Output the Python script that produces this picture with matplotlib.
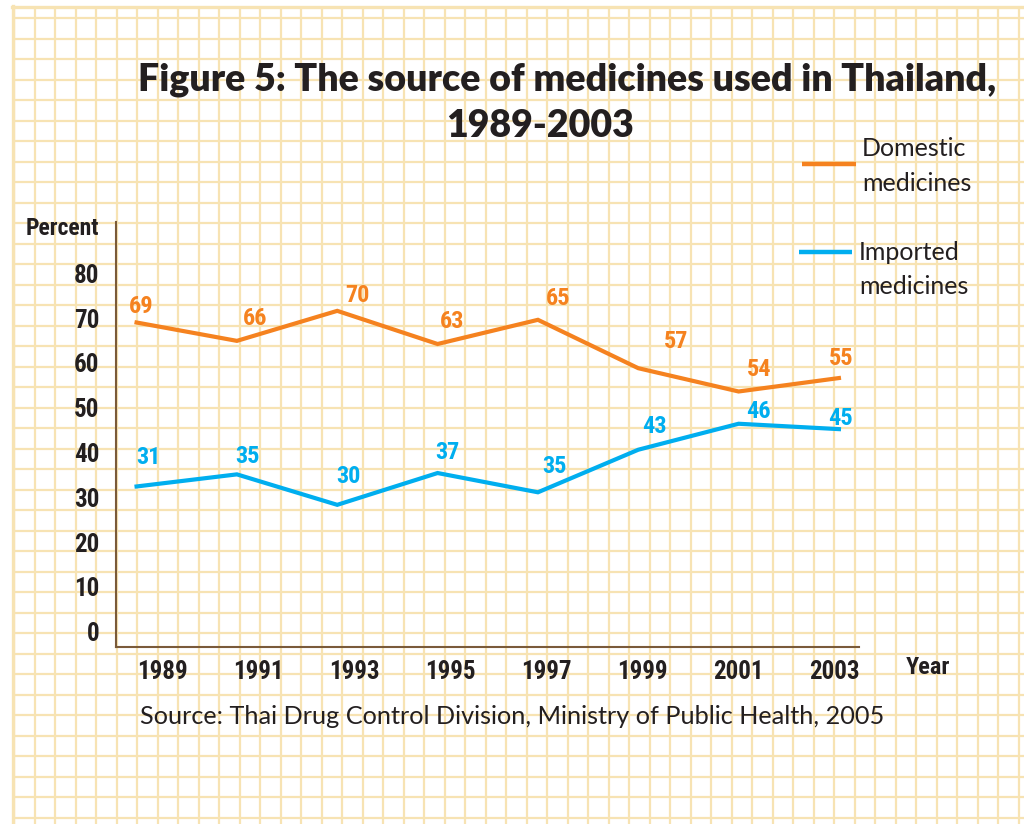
import numpy as np
import matplotlib
matplotlib.use("Agg")
import matplotlib.pyplot as plt
from matplotlib import font_manager as fm

# ---------------- data ----------------
years = [1989, 1991, 1993, 1995, 1997, 1999, 2001, 2003]
year_labels = ["1989", "1991", "1993", "1995", "1997", "1999", "2001", "2003"]
# values as printed on the chart
domestic_labels = [69, 66, 70, 63, 65, 57, 54, 55]
imported_labels = [31, 35, 30, 37, 35, 43, 46, 45]
# line heights as drawn in the chart
domestic_line = [69.0, 64.9, 71.6, 64.2, 69.6, 58.8, 53.6, 56.6]
imported_line = [32.4, 35.1, 28.3, 35.4, 31.1, 40.6, 46.4, 45.2]
y_ticks = [0, 10, 20, 30, 40, 50, 60, 70, 80]

# ---------------- styles ----------------
ORANGE = "#F5821F"
BLUE = "#00AEEF"
DARK = "#231F20"
GRID = "#F7E3B3"
SPINE = "#7A5A3A"

names = {f.name for f in fm.fontManager.ttflist}
def pick(*cands):
    for c in cands:
        if c in names:
            return c
    return "DejaVu Sans"

COND = pick("Liberation Sans Narrow", "Roboto Condensed", "Liberation Sans", "Roboto")
TITLEF = pick("Lato", "Open Sans", "Noto Sans")
BODYF = pick("Lato", "Open Sans", "Noto Sans")

W, H = 1024, 824
fig = plt.figure(figsize=(W / 100, H / 100), dpi=100)
fig.patch.set_facecolor("white")

# background graph-paper grid (pixel coordinates)
bg = fig.add_axes([0, 0, 1, 1], zorder=-5)
bg.set_xlim(0, W)
bg.set_ylim(H, 0)
bg.axis("off")
step = 20.5
for k in range(50):
    x = 14 + step * k
    if x <= W:
        bg.plot([x, x], [6.5, H], color=GRID, lw=1.6, solid_capstyle="butt", zorder=0)
for k in range(40):
    y = 18.3 + step * k
    if y <= H:
        bg.plot([12, W], [y, y], color=GRID, lw=1.6, solid_capstyle="butt", zorder=0)
bg.plot([12, W], [6.5, 6.5], color=GRID, lw=2.4, zorder=0)
bg.plot([12.5, 12.5], [6, H], color=GRID, lw=2.4, zorder=0)

# titles and free text
bg.text(567, 80, "Figure 5: The source of medicines used in Thailand,", ha="center", va="center",
        fontsize=27, fontweight="heavy", family=TITLEF, color=DARK)
bg.text(540, 126, "1989-2003", ha="center", va="center",
        fontsize=27, fontweight="heavy", family=TITLEF, color=DARK)
bg.text(99, 228, "Percent", ha="right", va="center", fontsize=17, fontweight="bold",
        family=COND, color=DARK)
bg.text(928, 668, "Year", ha="center", va="center", fontsize=17.5, fontweight="bold",
        family=COND, color=DARK)
bg.text(140, 717, "Source: Thai Drug Control Division, Ministry of Public Health, 2005",
        ha="left", va="center", fontsize=18.2, family=BODYF, color=DARK)

# legend (drawn manually to match the layout)
bg.plot([802, 856], [164, 164], color=ORANGE, lw=3.2, solid_capstyle="butt")
bg.text(862, 166, "Domestic\nmedicines", ha="left", va="center", fontsize=18,
        family=BODYF, color=DARK, linespacing=1.6)
bg.plot([799, 852], [252, 252], color=BLUE, lw=3.2, solid_capstyle="butt")
bg.text(859, 269.5, "Imported\nmedicines", ha="left", va="center", fontsize=18,
        family=BODYF, color=DARK, linespacing=1.6)

# main axes
left, right, top, bottom = 116, 859, 221.7, 647.3
ax = fig.add_axes([left / W, 1 - bottom / H, (right - left) / W, (bottom - top) / H])
ax.set_facecolor("none")
ax.set_xlim(1988.59, 2003.40)
ax.set_ylim(-3.5, 91.5)
for s in ["top", "right"]:
    ax.spines[s].set_visible(False)
for s in ["left", "bottom"]:
    ax.spines[s].set_color(SPINE)
    ax.spines[s].set_linewidth(1.5)

ax.plot(years, domestic_line, color=ORANGE, lw=3.0, solid_joinstyle="miter", zorder=3)
ax.plot(years, imported_line, color=BLUE, lw=3.0, solid_joinstyle="miter", zorder=3)

ax.set_yticks(y_ticks)
ax.set_yticklabels([str(v) for v in y_ticks])
tick_pos = np.linspace(years[0] + 0.51, years[-1] - 0.08, len(years))
ax.set_xticks(tick_pos)
ax.set_xticklabels(year_labels)
ax.tick_params(axis="both", length=0, colors=DARK)
ax.tick_params(axis="y", pad=12)
ax.tick_params(axis="x", pad=9)
for lab in ax.get_xticklabels() + ax.get_yticklabels():
    lab.set_fontfamily(COND)
    lab.set_fontweight("bold")
    lab.set_fontsize(18)

# data labels: pixel offsets (dx, dy) from each point
dom_off = [(4.5, 16), (18, 22), (20, 15), (14, 22.6), (20, 21), (38, 27), (21, 22), (2, 20)]
imp_off = [(12, 29), (11, 18), (11, 28), (10, 21), (17, 26), (16, 23), (20, 12), (2, 11)]
for x, yv, lab, (dx, dy) in zip(years, domestic_line, domestic_labels, dom_off):
    ax.annotate(str(lab), (x, yv), xytext=(dx, dy), textcoords="offset pixels",
                ha="center", va="center", color=ORANGE, fontsize=17.5,
                fontweight="bold", family=COND)
for x, yv, lab, (dx, dy) in zip(years, imported_line, imported_labels, imp_off):
    ax.annotate(str(lab), (x, yv), xytext=(dx, dy), textcoords="offset pixels",
                ha="center", va="center", color=BLUE, fontsize=17.5,
                fontweight="bold", family=COND)

fig.savefig("out.png", dpi=100, facecolor="white")
